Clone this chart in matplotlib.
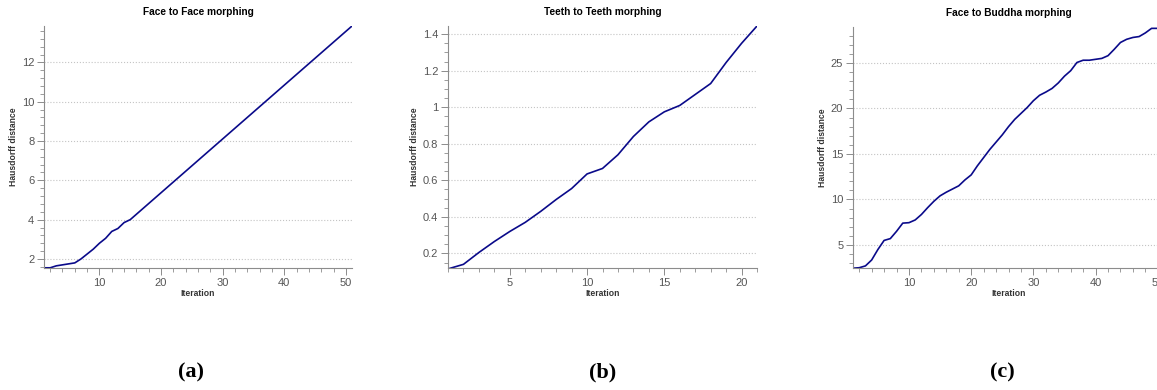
import matplotlib
matplotlib.use("Agg")
import matplotlib.pyplot as plt
from matplotlib.ticker import MultipleLocator, FuncFormatter

plt.rcParams['font.family'] = ['Liberation Sans', 'DejaVu Sans']

# Face to Face morphing
face_iter = list(range(1, 16)) + [51]
face_dist = [1.55, 1.55, 1.65, 1.70, 1.75, 1.80, 2.00, 2.25, 2.50, 2.80,
             3.05, 3.40, 3.55, 3.85, 4.00, 13.85]

# Teeth to Teeth morphing
teeth_iter = list(range(1, 22))
teeth_dist = [0.115, 0.14, 0.205, 0.265, 0.32, 0.37, 0.43, 0.495, 0.555, 0.635,
              0.665, 0.74, 0.84, 0.92, 0.975, 1.01, 1.07, 1.13, 1.245, 1.35, 1.445]

# Face to Buddha morphing
buddha_iter = list(range(1, 52))
buddha_dist = [2.45, 2.5, 2.7, 3.35, 4.5, 5.5, 5.7, 6.5, 7.4, 7.45,
               7.75, 8.35, 9.1, 9.8, 10.4, 10.8, 11.15, 11.5, 12.15, 12.7,
               13.7, 14.6, 15.5, 16.3, 17.1, 18.0, 18.8, 19.45, 20.1, 20.85,
               21.45, 21.8, 22.2, 22.8, 23.55, 24.15, 25.05, 25.3, 25.3, 25.4,
               25.5, 25.8, 26.5, 27.25, 27.6, 27.8, 27.9, 28.3, 28.8, 28.8, 28.8]

titles = ["Face to Face morphing", "Teeth to Teeth morphing", "Face to Buddha morphing"]
captions = ["(a)", "(b)", "(c)"]

W, H = 1157, 390
fig = plt.figure(figsize=(W / 100, H / 100), dpi=100)

# axes boxes in pixels: left, top, right, bottom
boxes = [(44, 26, 352, 268), (448, 26, 757, 268), (853, 27, 1164, 268)]
settings = [
    (face_iter, face_dist, (1, 51), (1.54, 13.85), 10, 2, 2, 0.4),
    (teeth_iter, teeth_dist, (1, 21), (0.12, 1.445), 5, 1, 0.2, 0.05),
    (buddha_iter, buddha_dist, (1, 51), (2.47, 28.95), 10, 2, 5, 1),
]
caption_x = [191, 603, 1002]

fmt = FuncFormatter(lambda v, p: f"{v:g}")

for i in range(3):
    l, t, r, b = boxes[i]
    ax = fig.add_axes([l / W, 1 - b / H, (r - l) / W, (b - t) / H])
    xs, ys, xlim, ylim, xmaj, xmin, ymaj, ymin = settings[i]
    ax.plot(xs, ys, color='#0a0a8a', lw=1.2)
    ax.set_xlim(*xlim)
    ax.set_ylim(*ylim)
    ax.xaxis.set_major_locator(MultipleLocator(xmaj))
    ax.xaxis.set_minor_locator(MultipleLocator(xmin))
    ax.yaxis.set_major_locator(MultipleLocator(ymaj))
    ax.yaxis.set_minor_locator(MultipleLocator(ymin))
    ax.yaxis.set_major_formatter(fmt)
    ax.grid(axis='y', which='major', linestyle=':', color='#c4c4c4', lw=0.8)
    for s in ['top', 'right']:
        ax.spines[s].set_visible(False)
    for s in ['left', 'bottom']:
        ax.spines[s].set_color('#8c8c8c')
        ax.spines[s].set_linewidth(0.8)
    ax.tick_params(which='major', length=5, width=0.7, color='#8c8c8c',
                   labelsize=8, labelcolor='#555555', pad=2)
    ax.tick_params(which='minor', length=3, width=0.6, color='#8c8c8c')
    ax.set_title(titles[i], fontsize=7.3, fontweight='bold', pad=8)
    ax.set_xlabel("Iteration", fontsize=6.2, fontweight='bold', labelpad=1, color='#333333')
    ax.set_ylabel("Hausdorff distance", fontsize=6.2, fontweight='bold', labelpad=3, color='#333333')
    fig.text(caption_x[i] / W, 1 - 372 / H, captions[i], ha='center', va='center',
             fontsize=16, fontweight='bold', family='Liberation Serif')

fig.savefig("out.png", dpi=100)
